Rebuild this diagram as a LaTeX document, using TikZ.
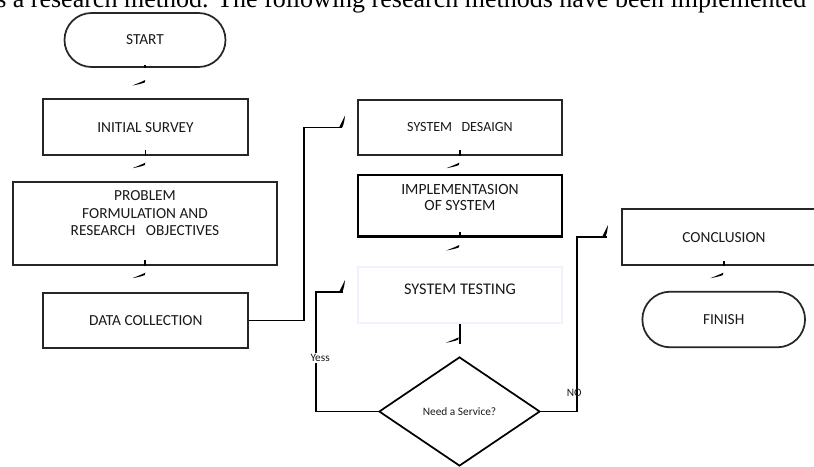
\documentclass[tikz,border=0pt]{standalone}
\usepackage{fontspec}
\setmainfont{Carlito}
\newfontfamily\bodyfont{Liberation Serif}
\usetikzlibrary{shapes.geometric}
\usetikzlibrary{shapes.misc}
\tikzset{
  proc/.style={draw=black!85, line width=1.3pt, fill=white, inner sep=0pt, align=center, text=black!90, font=\fontsize{11.5}{13.1}\selectfont},
  term/.style={proc, rounded rectangle},
  dia/.style={diamond, draw=black, line width=1.3pt, inner sep=0pt, text=black!90, font=\fontsize{8.5}{10}\selectfont},
  conn/.style={line width=1.4pt, black},
  lbl/.style={inner sep=1pt, text=black!90, font=\fontsize{8.5}{10}\selectfont}
}
\newcommand{\procbox}[7][]{\node[proc, minimum width=#5*0.75pt, minimum height=#6*0.75pt, #1] (#2) at (#3,#4) {#7};}
\newcommand{\termbox}[6]{\node[term, minimum width=#4*0.75pt, minimum height=#5*0.75pt] (#1) at (#2,#3) {#6};}
\newcommand{\vtick}[2]{\fill (#1,#2) .. controls (#1-4,#2+2) and (#1-8,#2+3.5) .. (#1-13,#2+5.5) .. controls (#1-8,#2+4.6) and (#1-4,#2+3.8) .. (#1-0.5,#2+2.4) -- cycle;}
\newcommand{\htick}[2]{\fill (#1,#2) .. controls (#1+2,#2-4) and (#1+4,#2-8) .. (#1+6,#2-12) .. controls (#1+5.5,#2-7) and (#1+4.8,#2-3) .. (#1+3.2,#2) -- cycle;}
\begin{document}
\begin{tikzpicture}[x=0.75pt, y=-0.75pt]
        \useasboundingbox (0,0) rectangle (814,467);
        \clip (0,0) rectangle (814,467);

        % page text
        \node[anchor=base west, inner sep=0pt, font=\bodyfont\fontsize{19.5}{22}\selectfont] (pagetext) at (-4,7.5) {s a research method. The following research methods have been implemented};

        % column1
        \termbox{start}{145}{40}{161}{54}{START}
        \procbox{survey}{145.5}{127.2}{205}{55.7}{INITIAL SURVEY}
        \procbox{problem}{145}{223.3}{264.6}{83.3}{PROBLEM\\FORMULATION AND\\RESEARCH\ \ \ OBJECTIVES\\[2pt]\mbox{}}
        \procbox{datacoll}{145.8}{320.5}{205}{55.6}{DATA COLLECTION}

        \draw[conn] (start.south) -- ++(0,-3);
        \vtick{145.3}{80}
        \draw[conn] (survey.south) -- ++(0,-6);
        \vtick{145.3}{162.7}
        \draw[conn] (problem.south) -- ++(0,-6);
        \vtick{145.3}{272.7}

        % column2
        \procbox[font=\fontsize{10.5}{12}\selectfont]{design}{460}{127.5}{204}{55}{SYSTEM\ \ \ DESAIGN}
        \procbox[line width=1.9pt, draw=black, font=\fontsize{11.7}{12.3}\selectfont]{implement}{460}{205.8}{204}{61.7}{IMPLEMENTASION\\OF SYSTEM\\\mbox{}}
        \procbox[draw=blue!6, text depth=9pt, font=\fontsize{12.2}{14}\selectfont]{testing}{460}{294.8}{204}{56.3}{SYSTEM TESTING}
        \node[dia, minimum width=161*0.75pt, minimum height=109*0.75pt] (service) at (459.5,411.5) {Need a Service?};

        \coordinate (designin) at ([xshift=-11.25pt]design.west);
        \draw[conn] (datacoll.east) -- ++(55,0) |- (designin);
        \htick{339}{127.5}
        \draw[conn] (design.south) -- ++(0,-6);
        \vtick{459.3}{162.7}
        \draw[conn] (implement.south) -- ++(0,-6);
        \vtick{459.3}{245}
        \draw[conn] (testing.south) -- ++(0,20);
        \vtick{458.7}{337.3}

        \coordinate (testingin) at (343,292);
        \draw[conn] (service.west) -- ++(-62,0) |- node[lbl, pos=0.224, fill=white, xshift=3pt] (yes) {Yess} (testingin);
        \htick{339}{292}

        % column3
        \procbox{concl}{724}{237.2}{204}{55.7}{CONCLUSION}
        \termbox{finish}{723.7}{319.5}{162.7}{55.6}{FINISH}

        \coordinate (conclin) at ([xshift=-10.5pt]concl.west);
        \draw[conn] (service.east) -- ++(36,0) |- node[lbl, pos=0.054, xshift=-2pt] (no) {NO} (conclin);
        \htick{602}{237.2}
        \draw[conn] (concl.south) -- ++(0,-5);
        \vtick{723.3}{272.7}

    \end{tikzpicture}
\end{document}
